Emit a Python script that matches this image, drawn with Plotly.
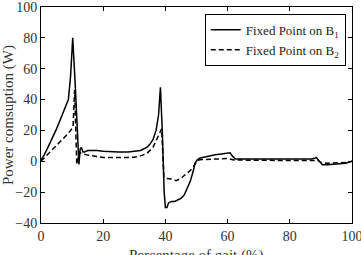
import plotly.graph_objects as go

# Solid: Fixed Point on B1
x1 = [0, 1, 2, 3, 4, 5, 6, 7, 8, 8.8, 9.5, 10.2, 11.0, 11.8, 12.2, 12.6, 13.0, 13.5, 14, 15, 16, 18, 20, 22, 25, 28, 30, 32, 34, 35, 36, 37, 37.8, 38.4, 39.0, 39.6, 40.0, 40.5, 41, 42, 43, 44, 45, 46, 47, 48, 49, 49.5, 50.2, 51, 52, 54, 56, 58, 60, 60.8, 61.5, 62.5, 65, 70, 75, 80, 85, 87, 88, 88.5, 89.5, 90.5, 92, 94, 96, 98, 100]
y1 = [1, 4, 8, 12, 16, 21, 26, 31, 36, 40, 55, 80, 50, 10, -2, 8, 9, 6, 6, 7, 7, 7, 6.5, 6.2, 6, 6, 6.3, 7, 9, 11, 14, 20, 30, 48, 20, -20, -30, -30, -27, -26, -26, -25, -24, -22, -18, -13, -6, -1.3, 0.8, 2, 2.5, 3.5, 4.2, 4.7, 5, 5.5, 3.5, 1.5, 1.5, 1.4, 1.4, 1.4, 1.5, 1.5, 2, 2.5, 0, -2.2, -2.3, -2, -1.8, -1.2, 0]

# Dashed: Fixed Point on B2
x2 = [0, 2, 4, 6, 8, 9.5, 10.3, 10.8, 11.5, 12.3, 13, 15, 18, 20, 25, 30, 32, 34, 36, 37, 38, 38.8, 39.5, 40, 42, 43.5, 45, 47, 48, 49, 50, 51, 55, 60, 62, 70, 80, 88, 89, 90, 92, 96, 98, 100]
y2 = [0, 4, 8, 12, 16.5, 20, 22, 46, -2, 6, 5, 4, 3, 2.5, 2.4, 2.6, 3.5, 5, 9, 13, 18, 21, -10, -11, -11.5, -12.6, -11, -8, -6, -3.5, -0.5, 1, 1.5, 1.8, 0.8, 0.5, 0.5, 0.5, 0.8, -0.8, -1.2, -1, -0.8, 0]

xticks = [0, 20, 40, 60, 80, 100]
yticks = [-40, -20, 0, 20, 40, 60, 80, 100]
x_title = "Percentage of gait (%)"
y_title = "Power comsuption (W)"

font = "Times New Roman, Liberation Serif, DejaVu Serif, serif"
tcol = "#333333"

fig = go.Figure()
fig.add_trace(go.Scatter(x=x1, y=y1, mode="lines", name="Fixed Point on B<sub>1</sub>",
                         line=dict(color="black", width=1.5)))
fig.add_trace(go.Scatter(x=x2, y=y2, mode="lines", name="Fixed Point on B<sub>2</sub>",
                         line=dict(color="black", width=1.5, dash="5px,3px")))

axis_common = dict(showline=True, linecolor="black", linewidth=1, mirror="ticks",
                   ticks="inside", ticklen=4, tickcolor="black", showgrid=False,
                   zeroline=False, ticklabeloverflow="allow", automargin=False,
                   tickfont=dict(family=font, size=14, color=tcol))

fig.update_xaxes(range=[0, 100], tickvals=xticks, **axis_common)
fig.update_yaxes(range=[-40, 100], tickvals=yticks,
                 title=dict(text=y_title, font=dict(family=font, size=15, color=tcol)),
                 **axis_common)

fig.add_annotation(text=x_title, xref="paper", yref="paper", x=0.5, y=-0.1,
                   xanchor="center", yanchor="top", showarrow=False,
                   font=dict(family=font, size=15, color=tcol))

fig.update_layout(
    width=361, height=255,
    margin=dict(l=41, r=9, t=7, b=32),
    plot_bgcolor="white", paper_bgcolor="white",
    showlegend=True,
    font=dict(family=font),
    legend=dict(x=0.98, y=0.968, xanchor="right", yanchor="top",
                bgcolor="white", bordercolor="black", borderwidth=1,
                font=dict(family=font, size=13, color="#222"),
                tracegroupgap=0),
)

fig.write_html("out.html")
